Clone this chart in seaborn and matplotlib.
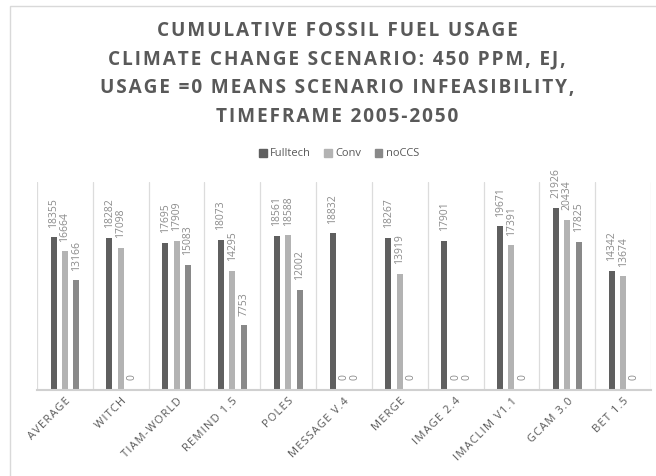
import matplotlib
matplotlib.use("Agg")
import matplotlib.pyplot as plt
import matplotlib.patches as mpatches
import seaborn as sns
import pandas as pd

models = ["AVERAGE", "WITCH", "TIAM-WORLD", "REMIND 1.5", "POLES", "MESSAGE V.4",
          "MERGE", "IMAGE 2.4", "IMACLIM V1.1", "GCAM 3.0", "BET 1.5"]
fulltech = [18355, 18282, 17695, 18073, 18561, 18832, 18267, 17901, 19671, 21926, 14342]
conv = [16664, 17098, 17909, 14295, 18588, 0, 13919, 0, 17391, 20434, 13674]
noccs = [13166, 0, 15083, 7753, 12002, 0, 0, 0, 0, 17825, 0]
series = ["Fulltech", "Conv", "noCCS"]
colors = ["#5f5f5f", "#b3b3b3", "#898989"]
title_lines = ["CUMULATIVE FOSSIL FUEL USAGE",
               "CLIMATE CHANGE SCENARIO: 450 PPM, EJ,",
               "USAGE =0 MEANS SCENARIO INFEASIBILITY,",
               "TIMEFRAME 2005-2050"]

df = pd.DataFrame({
    "model": models * 3,
    "scenario": [s for s in series for _ in models],
    "usage": fulltech + conv + noccs,
})


def spaced(text, gap="\u200a"):
    """Widen the tracking of a caption by putting hair spaces between glyphs."""
    return gap.join(text)


sns.set_theme(style="white")
plt.rcParams["font.family"] = ["Open Sans", "DejaVu Sans"]

fig = plt.figure(figsize=(6.56, 4.76), dpi=100)
ax = fig.add_axes([37 / 656, 86 / 476, 614 / 656, 208 / 476])

sns.barplot(data=df, x="model", y="usage", hue="scenario", order=models,
            hue_order=series, palette=colors, width=0.61, gap=0.47,
            saturation=1, ax=ax, legend=False, edgecolor="none")

for cont in ax.containers:
    ax.bar_label(cont, labels=[f"{v:.0f}" for v in cont.datavalues],
                 rotation=90, padding=7, fontsize=7.5, color="#8a8a8a")

ax.set_ylim(0, 25000)
ax.set_xlim(-0.5, len(models) - 0.5)
ax.set_yticks([])
ax.set_xlabel("")
ax.set_ylabel("")
for k in range(len(models) + 1):
    ax.axvline(k - 0.5, color="#dcdcdc", lw=0.9, zorder=0)
for side in ["top", "right", "left"]:
    ax.spines[side].set_visible(False)
ax.spines["bottom"].set_color("#d0d0d0")
ax.spines["bottom"].set_linewidth(1.5)
ax.tick_params(axis="x", length=0, pad=4)
ax.set_xticks(range(len(models)))
ax.set_xticklabels([spaced(m) for m in models], rotation=45, ha="right",
                   rotation_mode="anchor", fontsize=8, color="#595959")

fig.text(337 / 656, 1 - 74 / 476, "\n".join(spaced(t) for t in title_lines),
         ha="center", va="center", fontsize=13.7, fontweight="bold",
         color="#595959", linespacing=1.58)

handles = [mpatches.Patch(color=c, label=s) for s, c in zip(series, colors)]
fig.legend(handles=handles, loc="center", bbox_to_anchor=(339 / 656, 1 - 154 / 476),
           ncol=3, frameon=False, fontsize=8, handlelength=0.7, handleheight=0.7,
           handletextpad=0.3, columnspacing=1.2, labelcolor="#595959")

frame = mpatches.Rectangle((10 / 656, -0.01), 1.0, 1 - 6 / 476 + 0.01,
                           transform=fig.transFigure, fill=False,
                           edgecolor="#d9d9d9", lw=1.0)
fig.patches.append(frame)

fig.savefig("out.png", dpi=100)
